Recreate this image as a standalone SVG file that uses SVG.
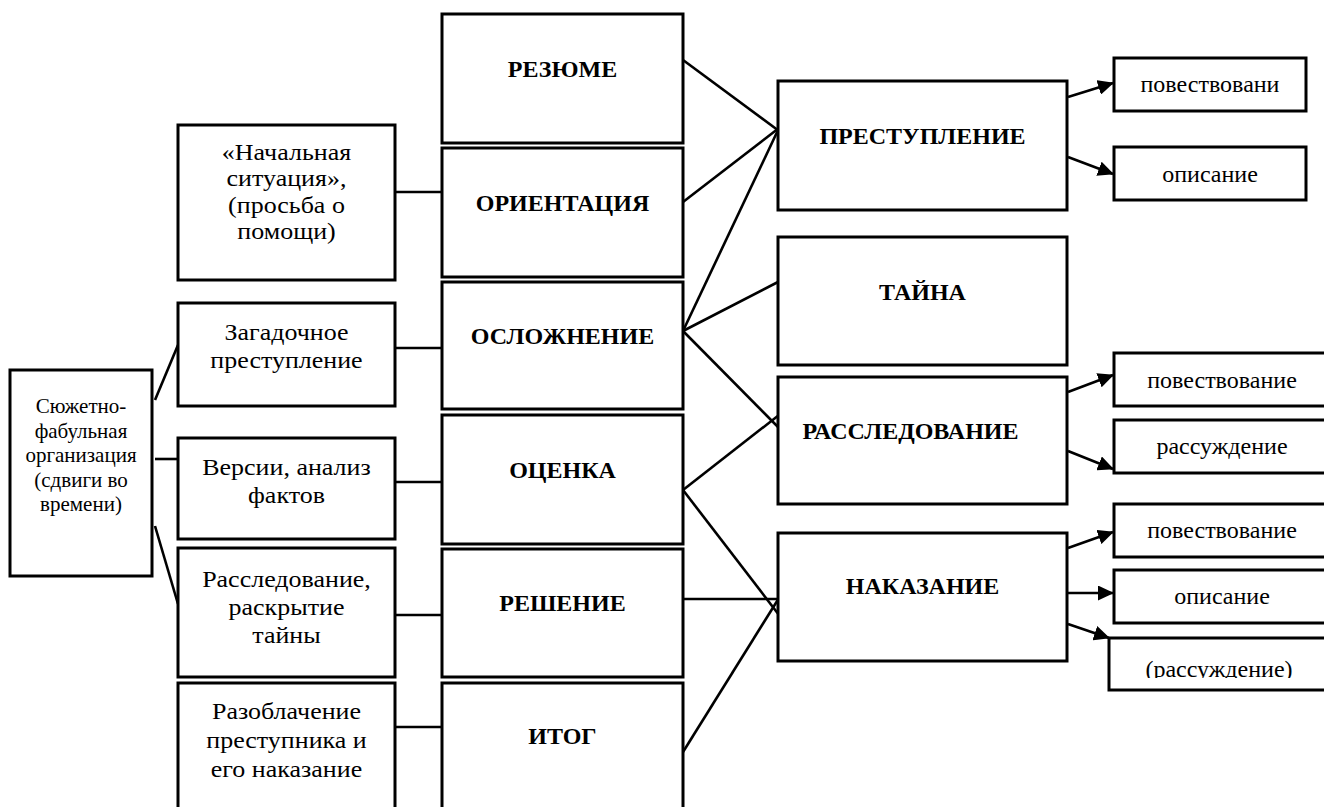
<svg xmlns="http://www.w3.org/2000/svg" width="1324" height="807" viewBox="0 0 1324 807">
<style>
.box{fill:#fff;stroke:#000;stroke-width:3}
.ln{fill:none;stroke:#000;stroke-width:2.6}
.ar{fill:none;stroke:#000;stroke-width:2.6;marker-end:url(#ah)}
.t{font-family:"Liberation Serif","Times New Roman",serif;font-size:23px;fill:#000;text-anchor:middle}
.l{font-family:"Liberation Serif","Times New Roman",serif;font-size:21px;fill:#000;text-anchor:middle}
.b{font-family:"Liberation Serif","Times New Roman",serif;font-size:24px;font-weight:bold;fill:#000;text-anchor:middle}
.s{font-family:"Liberation Serif","Times New Roman",serif;font-size:24px;fill:#000;text-anchor:middle}
</style>
<defs>
<marker id="ah" viewBox="0 0 16 15" refX="15" refY="7.5" markerWidth="16" markerHeight="15" orient="auto" markerUnits="userSpaceOnUse">
<path d="M0,0 L16,7.5 L0,15 z" fill="#000"/>
</marker>
<clipPath id="clipR"><rect x="1100" y="630" width="224" height="48"/></clipPath>
</defs>
<rect width="1324" height="807" fill="#fff"/>

<g id="connectors">
<line class="ln" x1="155" y1="400" x2="178" y2="345"/>
<line class="ln" x1="155" y1="459" x2="178" y2="459"/>
<line class="ln" x1="155" y1="526" x2="178" y2="604"/>
<line class="ln" x1="395" y1="192" x2="442" y2="192"/>
<line class="ln" x1="395" y1="348" x2="442" y2="348"/>
<line class="ln" x1="395" y1="482" x2="442" y2="482"/>
<line class="ln" x1="395" y1="615" x2="442" y2="615"/>
<line class="ln" x1="395" y1="727" x2="442" y2="727"/>
<line class="ln" x1="683" y1="60" x2="779" y2="131"/>
<line class="ln" x1="683" y1="202" x2="779" y2="128"/>
<line class="ln" x1="683" y1="331" x2="779" y2="128"/>
<line class="ln" x1="683" y1="331" x2="778" y2="282"/>
<line class="ln" x1="683" y1="331" x2="779" y2="428"/>
<line class="ln" x1="683" y1="490" x2="779" y2="415"/>
<line class="ln" x1="683" y1="490" x2="779" y2="615"/>
<line class="ln" x1="683" y1="599" x2="778" y2="599"/>
<line class="ln" x1="683" y1="752" x2="779" y2="598"/>
<line class="ar" x1="1068" y1="97" x2="1113" y2="83"/>
<line class="ar" x1="1068" y1="157" x2="1113" y2="174"/>
<line class="ar" x1="1068" y1="392" x2="1113" y2="375"/>
<line class="ar" x1="1068" y1="451" x2="1113" y2="469"/>
<line class="ar" x1="1068" y1="548" x2="1113" y2="532"/>
<line class="ar" x1="1068" y1="593" x2="1113" y2="593"/>
<line class="ar" x1="1068" y1="624" x2="1109" y2="638"/>
</g>

<g id="n-syuzhet">
<rect class="box" x="10" y="370" width="142" height="206"/>
<text class="l" x="81" y="413">Сюжетно-</text>
<text class="l" x="81" y="437.5">фабульная</text>
<text class="l" x="81" y="462">организация</text>
<text class="l" x="81" y="486.5">(сдвиги во</text>
<text class="l" x="81" y="511">времени)</text>
</g>

<g id="n-nach">
<rect class="box" x="178" y="125" width="217" height="155"/>
<g transform="translate(286.5,0) scale(1.13,1) translate(-286.5,0)">
<text class="t" x="286.5" y="160">«Начальная</text>
<text class="t" x="286.5" y="186.5">ситуация»,</text>
<text class="t" x="286.5" y="213">(просьба о</text>
<text class="t" x="286.5" y="239.5">помощи)</text>
</g>
</g>
<g id="n-zagad">
<rect class="box" x="178" y="303" width="217" height="103"/>
<g transform="translate(286.5,0) scale(1.13,1) translate(-286.5,0)">
<text class="t" x="286.5" y="340">Загадочное</text>
<text class="t" x="286.5" y="368">преступление</text>
</g>
</g>
<g id="n-versii">
<rect class="box" x="178" y="438" width="217" height="101"/>
<g transform="translate(286.5,0) scale(1.13,1) translate(-286.5,0)">
<text class="t" x="286.5" y="475">Версии, анализ</text>
<text class="t" x="286.5" y="503">фактов</text>
</g>
</g>
<g id="n-rassl-l">
<rect class="box" x="178" y="548" width="217" height="129"/>
<g transform="translate(286.5,0) scale(1.13,1) translate(-286.5,0)">
<text class="t" x="286.5" y="587">Расследование,</text>
<text class="t" x="286.5" y="615">раскрытие</text>
<text class="t" x="286.5" y="643">тайны</text>
</g>
</g>
<g id="n-razobl">
<rect class="box" x="178" y="683" width="217" height="140"/>
<g transform="translate(286.5,0) scale(1.13,1) translate(-286.5,0)">
<text class="t" x="286.5" y="719">Разоблачение</text>
<text class="t" x="286.5" y="748">преступника и</text>
<text class="t" x="286.5" y="777">его наказание</text>
</g>
</g>

<g id="n-rezyume">
<rect class="box" x="442" y="14" width="241" height="129"/>
<text class="b" x="562.5" y="77">РЕЗЮМЕ</text>
</g>
<g id="n-orient">
<rect class="box" x="442" y="148" width="241" height="129"/>
<text class="b" x="562.5" y="211">ОРИЕНТАЦИЯ</text>
</g>
<g id="n-oslozh">
<rect class="box" x="442" y="282" width="241" height="127"/>
<text class="b" x="562.5" y="344">ОСЛОЖНЕНИЕ</text>
</g>
<g id="n-ocenka">
<rect class="box" x="442" y="415" width="241" height="129"/>
<text class="b" x="562.5" y="478">ОЦЕНКА</text>
</g>
<g id="n-reshenie">
<rect class="box" x="442" y="549" width="241" height="128"/>
<text class="b" x="562.5" y="611">РЕШЕНИЕ</text>
</g>
<g id="n-itog">
<rect class="box" x="442" y="683" width="241" height="140"/>
<text class="b" x="562.5" y="744">ИТОГ</text>
</g>

<g id="n-prestup">
<rect class="box" x="778" y="81" width="289" height="129"/>
<text class="b" x="922.5" y="144">ПРЕСТУПЛЕНИЕ</text>
</g>
<g id="n-taina">
<rect class="box" x="778" y="237" width="289" height="128"/>
<text class="b" x="922.5" y="300">ТАЙНА</text>
</g>
<g id="n-rassl">
<rect class="box" x="778" y="377" width="289" height="127"/>
<text class="b" x="910.5" y="439">РАССЛЕДОВАНИЕ</text>
</g>
<g id="n-nakaz">
<rect class="box" x="778" y="533" width="289" height="128"/>
<text class="b" x="922.5" y="594">НАКАЗАНИЕ</text>
</g>

<g id="n-povest1">
<rect class="box" x="1114" y="58" width="192" height="53"/>
<text class="s" x="1210" y="92">повествовани</text>
</g>
<g id="n-opis1">
<rect class="box" x="1114" y="147" width="192" height="53"/>
<text class="s" x="1210" y="182">описание</text>
</g>
<g id="n-povest2">
<rect class="box" x="1114" y="353" width="230" height="53"/>
<text class="s" x="1222" y="388">повествование</text>
</g>
<g id="n-rassuzh1">
<rect class="box" x="1114" y="420" width="230" height="53"/>
<text class="s" x="1222" y="454">рассуждение</text>
</g>
<g id="n-povest3">
<rect class="box" x="1114" y="504" width="230" height="53"/>
<text class="s" x="1222" y="538">повествование</text>
</g>
<g id="n-opis2">
<rect class="box" x="1114" y="570" width="230" height="53"/>
<text class="s" x="1222" y="604">описание</text>
</g>
<g id="n-rassuzh2">
<rect class="box" x="1109" y="638" width="235" height="52"/>
<text class="s" x="1219" y="677" clip-path="url(#clipR)">(рассуждение)</text>
</g>
</svg>
